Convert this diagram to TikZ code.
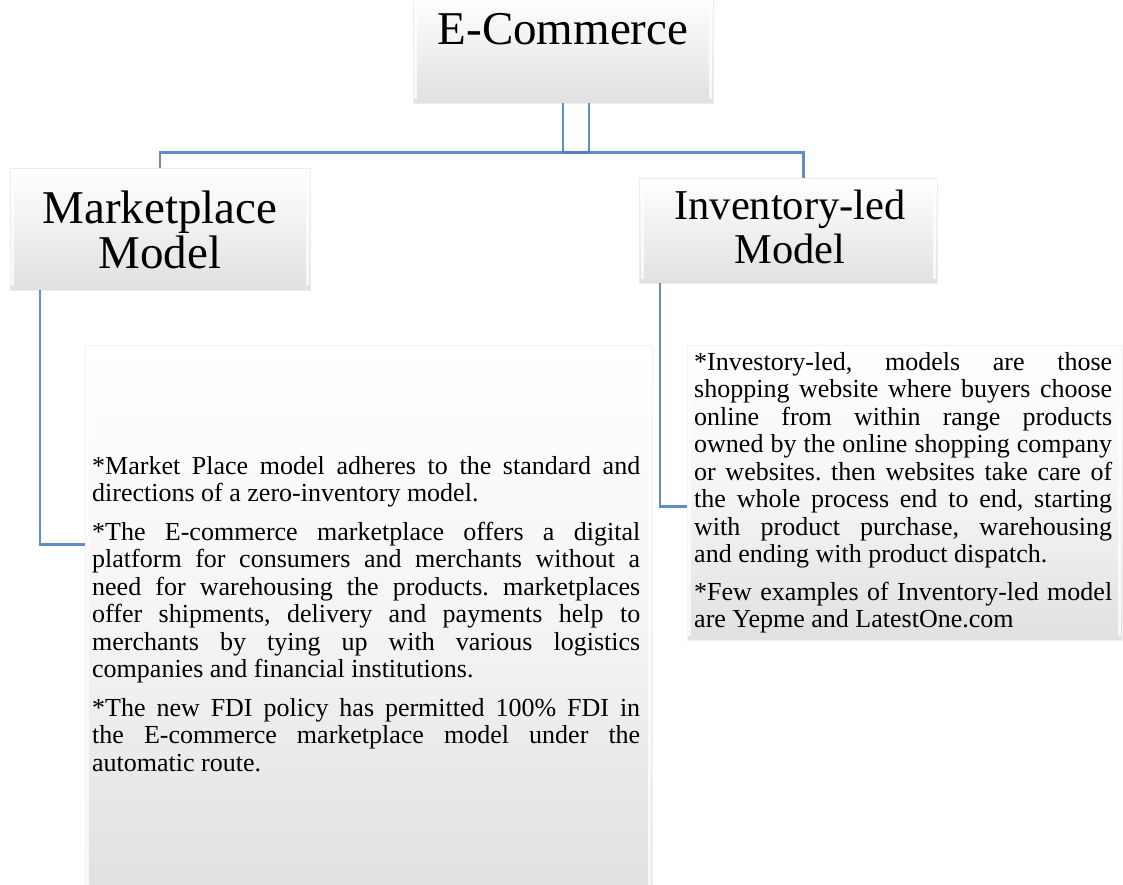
\documentclass[tikz,border=0pt]{standalone}
\usepackage{fontspec}
\setmainfont{Liberation Serif}
\usetikzlibrary{calc}
\definecolor{linkblue}{RGB}{79,129,189}
\newcommand{\bevelsides}[1]{%
  \draw[white, opacity=.75, line width=3pt]
    ([xshift=3pt,yshift=-4pt]#1.north west) -- ([xshift=3pt,yshift=4pt]#1.south west)
    ([xshift=-3pt,yshift=-4pt]#1.north east) -- ([xshift=-3pt,yshift=4pt]#1.south east);}
\begin{document}
\begin{tikzpicture}[x=1pt,y=-1pt,
  headbox/.style={rectangle, draw=black!7, line width=0.6pt, top color=white,
    bottom color=black!12, inner sep=0pt},
  textbox/.style={rectangle, draw=black!5, line width=0.6pt, top color=white,
    bottom color=black!12, middle color=white!96!black, inner sep=0pt},
  link/.style={draw=linkblue, line width=2.6pt, opacity=.9},
  headtext/.style={font=\fontsize{#1}{44.5}\selectfont, align=center, inner sep=0pt},
  bodytext/.style={font=\fontsize{26}{27.5}\selectfont, inner sep=0pt, text width=#1,
    align=justify, execute at begin node={\setlength{\parindent}{0pt}\hbadness=10000\frenchspacing}}
]
\useasboundingbox (0,0) rectangle (1123,884);

% top-level box
\node[headbox, minimum width=300pt, minimum height=108pt] (ecom) at (563,49) {};
\bevelsides{ecom}
\node[headtext=47, anchor=base] (ecomlbl) at (563,44) {E-Commerce};

% second-level boxes
\node[headbox, minimum width=300pt, minimum height=122pt] (mkt) at (160,229) {};
\bevelsides{mkt}
\node[headtext=47] (mktlbl) at (160,230) {Marketplace\\Model};

\node[headbox, minimum width=298pt, minimum height=105pt] (inv) at (788.5,230.5) {};
\bevelsides{inv}
\node[headtext=42.5] (invlbl) at (790,227) {Inventory-led\\Model};

% description boxes
\node[textbox, minimum width=567pt, minimum height=545pt] (mkttext) at (368.5,617.5) {};
\bevelsides{mkttext}
\node[textbox, minimum width=435pt, minimum height=295pt] (invtext) at (904.5,492.5) {};
\bevelsides{invtext}

\node[bodytext=548pt, anchor=north west] (mktbody) at (92,456) {%
*Market Place model adheres to the standard and\linebreak
directions of a zero-inventory model.\par\vskip 11pt
*The E-commerce marketplace offers a digital\linebreak
platform for consumers and merchants without a\linebreak
need for warehousing the products. marketplaces\linebreak
offer shipments, delivery and payments help to\linebreak
merchants by tying up with various logistics\linebreak
companies and financial institutions.\par\vskip 11pt
*The new FDI policy has permitted 100\% FDI in\linebreak
the E-commerce marketplace model under the\linebreak
automatic route.};

\node[bodytext=418pt, anchor=north west] (invbody) at (694,352) {%
*Investory-led, models are those\linebreak
shopping website where buyers choose\linebreak
online from within range products\linebreak
owned by the online shopping company\linebreak
or websites. then websites take care of\linebreak
the whole process end to end, starting\linebreak
with product purchase, warehousing\linebreak
and ending with product dispatch.\par\vskip 10pt
*Few examples of Inventory-led model\linebreak
are Yepme and LatestOne.com};

% connectors
\draw[link] (ecom.south) -- ++(0,49) -| ([xshift=15pt]inv.north);
\draw[link] ([xshift=26pt]ecom.south) -- ++(0,49) -| (mkt.north);
\draw[link] ([xshift=-120pt]mkt.south) |- ($(mkttext.north west)+(0,200)$);
\draw[link] ([xshift=-128.5pt]inv.south) |- ($(invtext.north west)+(0,162)$);
\end{tikzpicture}
\end{document}
